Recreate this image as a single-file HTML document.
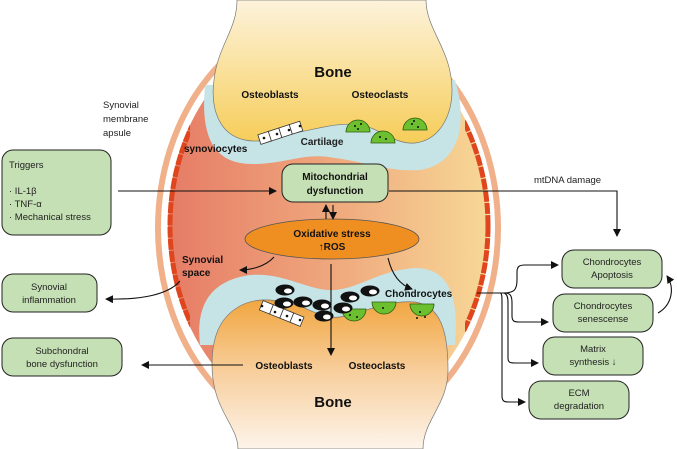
<!DOCTYPE html>
<html><head><meta charset="utf-8"><style>
html,body{margin:0;padding:0;background:#fff;}
svg{display:block;font-family:"Liberation Sans",sans-serif;}
.b{font-weight:bold;fill:#111;}
.t{fill:#222;}
</style></head><body>
<svg width="677" height="449" viewBox="0 0 677 449" xmlns="http://www.w3.org/2000/svg">
<defs>
<linearGradient id="syn" x1="0" x2="1" y1="0" y2="0">
<stop offset="0" stop-color="#e67c66"/><stop offset="0.45" stop-color="#eea27a"/><stop offset="1" stop-color="#f7d896"/>
</linearGradient>
<linearGradient id="b1" x1="0" x2="0" y1="0" y2="1">
<stop offset="0" stop-color="#fdf3dc"/><stop offset="1" stop-color="#f6cd58"/>
</linearGradient>
<linearGradient id="b2" x1="0" x2="0" y1="0" y2="1">
<stop offset="0" stop-color="#f1a640"/><stop offset="0.5" stop-color="#f8d0a0"/><stop offset="1" stop-color="#fdf4ea"/>
</linearGradient>
<clipPath id="sides"><rect x="0" y="68" width="190" height="330"/><rect x="465" y="68" width="60" height="330"/></clipPath>
<marker id="ah" markerWidth="8" markerHeight="8" refX="7" refY="4" orient="auto" markerUnits="userSpaceOnUse"><path d="M0,0 L8,4 L0,8 Z" fill="#111"/></marker>
</defs>
<ellipse cx="328" cy="228" rx="170" ry="212" fill="none" stroke="#f0b08a" stroke-width="6"/>
<ellipse cx="329" cy="226" rx="161" ry="200" fill="url(#syn)"/>
<ellipse cx="329" cy="226" rx="159" ry="197" fill="none" stroke="#e0461d" stroke-width="5" stroke-dasharray="11 1.2" clip-path="url(#sides)"/>
<path d="M205,85 C200,140 215,165 255,164 C290,163 305,152 335,158 C370,163 390,172 420,170 C455,165 470,130 455,80 Z" fill="#c6e3e6"/>
<path d="M237,0 L426,0 C426,30 452,50 452,90 C452,115 440,140 415,143 C395,145 380,128 360,125 C340,122 320,128 300,132 C280,136 262,144 245,140 C220,135 210,110 214,80 C218,45 237,30 237,0 Z" fill="url(#b1)" stroke="#777" stroke-width="0.7"/>
<path d="M200,345 C195,300 215,280 250,275 C285,272 310,292 335,290 C360,288 380,270 415,268 C445,268 460,290 455,345 Z" fill="#c6e3e6"/>
<path d="M238,449 L423,449 C423,420 448,405 448,370 C448,330 440,306 415,302 C390,300 370,310 345,316 C330,320 320,315 300,306 C280,300 258,296 240,306 C218,318 212,340 212,365 C212,410 238,425 238,449 Z" fill="url(#b2)" stroke="#777" stroke-width="0.7"/>
<g fill="#fff" stroke="#333" stroke-width="0.8">
<g transform="rotate(-18 280 135)"><rect x="259" y="128" width="11" height="10"/><rect x="270" y="128" width="11" height="10"/><rect x="281" y="128" width="11" height="10"/><rect x="292" y="128" width="11" height="10"/></g>
<g transform="rotate(22 280 315)"><rect x="259" y="308" width="11" height="10"/><rect x="270" y="308" width="11" height="10"/><rect x="281" y="308" width="11" height="10"/><rect x="292" y="308" width="11" height="10"/></g>
</g>
<g fill="#111"><circle cx="264" cy="138" r="1.3"/><circle cx="277" cy="134" r="1.3"/><circle cx="289" cy="130" r="1.3"/><circle cx="300" cy="126" r="1.3"/>
<circle cx="262" cy="306" r="1.3"/><circle cx="275" cy="312" r="1.3"/><circle cx="287" cy="316" r="1.3"/><circle cx="300" cy="320" r="1.3"/></g>
<g fill="#6cbf2f" stroke="#2d5c10" stroke-width="0.8">
<path d="M346,132 a12,12 0 0 1 24,0 Z"/><path d="M371,143 a12,12 0 0 1 24,0 Z"/><path d="M403,130 a12,12 0 0 1 24,0 Z"/>
<path d="M342,309 a12,12 0 0 0 24,0 Z"/><path d="M372,302 a12,12 0 0 0 24,0 Z"/><path d="M410,304 a12,12 0 0 0 24,0 Z"/>
</g>
<g fill="#111"><circle cx="355" cy="126" r="1"/><circle cx="361" cy="124" r="1"/><circle cx="358" cy="129" r="1"/><circle cx="380" cy="137" r="1"/><circle cx="386" cy="139" r="1"/><circle cx="412" cy="124" r="1"/><circle cx="418" cy="127" r="1"/><circle cx="414" cy="121" r="1"/>
<circle cx="350" cy="315" r="1"/><circle cx="357" cy="317" r="1"/><circle cx="383" cy="308" r="1"/><circle cx="420" cy="312" r="1"/><circle cx="425" cy="317" r="1"/><circle cx="417" cy="318" r="1"/></g>
<g fill="#111" stroke="#111">
<ellipse cx="285" cy="290" rx="9" ry="5"/><ellipse cx="284" cy="303" rx="9" ry="5"/><ellipse cx="303" cy="302" rx="9" ry="5"/><ellipse cx="322" cy="305" rx="9" ry="5"/><ellipse cx="324" cy="316" rx="9" ry="5"/><ellipse cx="343" cy="308" rx="9" ry="5"/><ellipse cx="350" cy="297" rx="9" ry="5"/><ellipse cx="370" cy="291" rx="9" ry="5"/>
</g>
<g fill="#fff"><ellipse cx="288" cy="291" rx="4" ry="2.5"/><ellipse cx="287" cy="304" rx="4" ry="2.5"/><ellipse cx="306" cy="303" rx="4" ry="2.5"/><ellipse cx="325" cy="306" rx="4" ry="2.5"/><ellipse cx="327" cy="317" rx="4" ry="2.5"/><ellipse cx="346" cy="309" rx="4" ry="2.5"/><ellipse cx="353" cy="298" rx="4" ry="2.5"/><ellipse cx="373" cy="292" rx="4" ry="2.5"/></g>
<text x="333" y="77" class="b" font-size="15" text-anchor="middle">Bone</text>
<text x="270" y="98" class="b" font-size="10" text-anchor="middle">Osteoblasts</text>
<text x="380" y="98" class="b" font-size="10" text-anchor="middle">Osteoclasts</text>
<text x="322" y="145" class="t" font-size="10" font-weight="bold" text-anchor="middle">Cartilage</text>
<text x="184" y="152" class="b" font-size="10">synoviocytes</text>
<text x="182" y="263" class="b" font-size="10">Synovial</text>
<text x="182" y="276" class="b" font-size="10">space</text>
<text x="385" y="297" class="b" font-size="10">Chondrocytes</text>
<text x="284" y="369" class="b" font-size="10" text-anchor="middle">Osteoblasts</text>
<text x="377" y="369" class="b" font-size="10" text-anchor="middle">Osteoclasts</text>
<text x="333" y="407" class="b" font-size="15" text-anchor="middle">Bone</text>
<text x="103" y="108" class="t" font-size="9.5">Synovial</text>
<text x="103" y="122" class="t" font-size="9.5">membrane</text>
<text x="103" y="136" class="t" font-size="9.5">apsule</text>
<rect x="282" y="164" width="106" height="38" rx="11" fill="#c5e0b4" stroke="#222" stroke-width="1"/>
<text x="335" y="180" class="b" font-size="10" text-anchor="middle">Mitochondrial</text>
<text x="335" y="194" class="b" font-size="10" text-anchor="middle">dysfunction</text>
<ellipse cx="332" cy="239" rx="87" ry="20" fill="#ef8f22" stroke="#555" stroke-width="0.8"/>
<text x="332" y="237" class="b" font-size="10" text-anchor="middle">Oxidative stress</text>
<text x="332" y="250" class="b" font-size="10" text-anchor="middle">↑ROS</text>
<g fill="#c5e0b4" stroke="#222" stroke-width="1">
<rect x="2" y="150" width="109" height="85" rx="11"/>
<rect x="2" y="274" width="95" height="38" rx="11"/>
<rect x="2" y="338" width="120" height="38" rx="11"/>
<rect x="562" y="250" width="100" height="38" rx="12"/>
<rect x="553" y="294" width="100" height="38" rx="12"/>
<rect x="543" y="337" width="100" height="38" rx="12"/>
<rect x="529" y="381" width="100" height="38" rx="12"/>
</g>
<g class="t" font-size="9.5">
<text x="9" y="168">Triggers</text>
<text x="9" y="194">· IL-1β</text>
<text x="9" y="207">· TNF-α</text>
<text x="9" y="220">· Mechanical stress</text>
<text x="49" y="290" text-anchor="middle">Synovial</text>
<text x="49" y="303" text-anchor="middle">inflammation</text>
<text x="62" y="354" text-anchor="middle">Subchondral</text>
<text x="62" y="367" text-anchor="middle">bone dysfunction</text>
<text x="612" y="265" text-anchor="middle">Chondrocytes</text>
<text x="612" y="278" text-anchor="middle">Apoptosis</text>
<text x="603" y="309" text-anchor="middle">Chondrocytes</text>
<text x="603" y="322" text-anchor="middle">senescense</text>
<text x="593" y="352" text-anchor="middle">Matrix</text>
<text x="593" y="365" text-anchor="middle">synthesis ↓</text>
<text x="579" y="396" text-anchor="middle">ECM</text>
<text x="579" y="409" text-anchor="middle">degradation</text>
<text x="534" y="183">mtDNA damage</text>
</g>
<g fill="none" stroke="#111" stroke-width="1.1">
<path d="M118,191 L276,191" marker-end="url(#ah)"/>
<path d="M389,191 L617,191 L617,236" marker-end="url(#ah)"/>
<path d="M326,219 L326,205" marker-end="url(#ah)"/>
<path d="M333,205 L333,219" marker-end="url(#ah)"/>
<path d="M331,264 L331,355" marker-end="url(#ah)"/>
<path d="M274,257 C265,267 250,270 240,270" marker-end="url(#ah)"/>
<path d="M388,258 C392,275 400,285 412,289" marker-end="url(#ah)"/>
<path d="M180,281 C168,295 140,300 106,299" marker-end="url(#ah)"/>
<path d="M243,365 L142,365" marker-end="url(#ah)"/>
<path d="M477,293 L505,293"/>
<path d="M503,293 C514,293 517,290 517,280 L517,272 C517,266 520,265 525,265 L558,265" marker-end="url(#ah)"/>
<path d="M505,293 C511,293 512,297 512,303 L512,316 C512,322 515,322 520,322 L548,322" marker-end="url(#ah)"/>
<path d="M503,293 C507,293 508,297 508,303 L508,358 C508,363 511,363 515,363 L538,363" marker-end="url(#ah)"/>
<path d="M500,293 C502,293 502,297 502,303 L502,396 C502,402 505,402 510,402 L525,402" marker-end="url(#ah)"/>
<path d="M658,313 C672,305 675,288 667,276" marker-end="url(#ah)"/>
</g>
</svg>
</body></html>
